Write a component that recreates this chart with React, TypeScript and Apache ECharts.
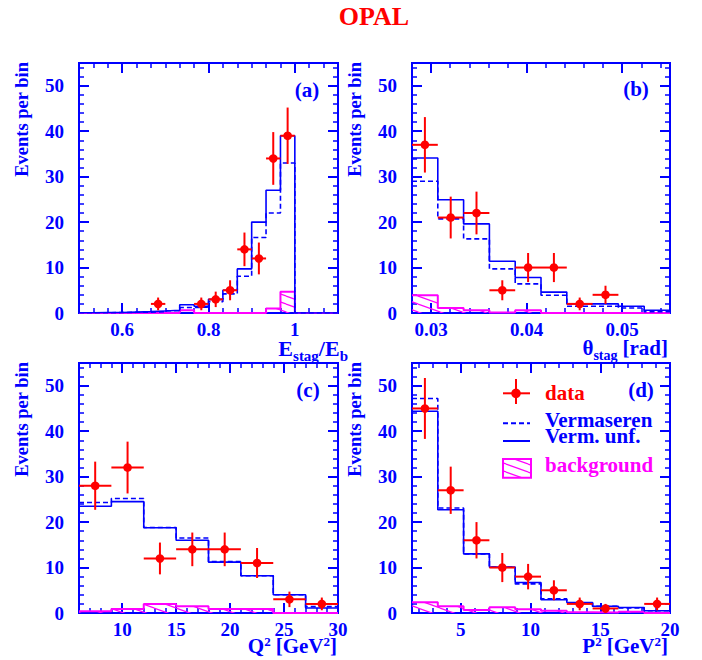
import React, { useEffect, useRef } from 'react';
import * as echarts from 'echarts';

// ---------- shared axis ticks ----------
const Y_TICKS = [0, 10, 20, 30, 40, 50];
const Y_MINOR = [2, 4, 6, 8, 12, 14, 16, 18, 22, 24, 26, 28, 32, 34, 36, 38, 42, 44, 46, 48, 52, 54];

// ---------- panel (a): E_stag / E_b ----------
const A_EDGES = [0.5, 0.5333, 0.5667, 0.6, 0.6333, 0.6667, 0.7, 0.7333, 0.7667, 0.8, 0.8333, 0.8667, 0.9, 0.9333, 0.9667, 1.0, 1.0333, 1.0667, 1.1];
const A_UNF = [0.05, 0.1, 0.1, 0.2, 0.3, 0.45, 0.6, 1.8, 1.5, 3.0, 5.0, 9.7, 20, 27, 39, 0, 0, 0];
const A_VERM = [0.05, 0.05, 0.1, 0.15, 0.2, 0.3, 0.5, 1.2, 1.3, 2.5, 4.2, 8.1, 16.6, 22, 33, 0, 0, 0];
const A_BKG = [0, 0, 0, 0, 0, 0, 0, 0.6, 0, 0, 0, 0, 0, 1.0, 4.7, 0, 0, 0];
const A_DATA_X = [0.6833, 0.7833, 0.8167, 0.85, 0.8833, 0.9167, 0.95, 0.9833];
const A_DATA_Y = [2, 2, 3, 5, 14, 12, 34, 39];
const A_DATA_ERR = [1.4, 1.4, 1.7, 2.2, 3.7, 3.5, 5.8, 6.2];
const A_HALF_BIN = 0.01667;
const A_XTICKS = [0.6, 0.8, 1];
const A_XMINOR = [0.5333, 0.5667, 0.6333, 0.6667, 0.7, 0.7333, 0.7667, 0.8333, 0.8667, 0.9, 0.9333, 0.9667, 1.0333, 1.0667];

// ---------- panel (b): theta_stag ----------
const B_EDGES = [0.028, 0.0307, 0.0334, 0.0361, 0.0388, 0.0415, 0.0442, 0.0469, 0.0496, 0.0523, 0.055];
const B_UNF = [34.1, 24.9, 19.6, 11.4, 7.8, 4.6, 2.0, 2.0, 1.5, 0.6];
const B_VERM = [29, 20.7, 16.3, 9.7, 6.4, 3.9, 1.5, 1.5, 1.1, 0.3];
const B_BKG = [3.9, 1.1, 0.6, 0.1, 0.6, 0, 0, 0, 0, 0];
const B_DATA_X = [0.02935, 0.03205, 0.03475, 0.03745, 0.04015, 0.04285, 0.04555, 0.04825];
const B_DATA_Y = [37, 21, 22, 5, 10, 10, 2, 4];
const B_DATA_ERR = [6.1, 4.6, 4.7, 2.2, 3.2, 3.2, 1.4, 2.0];
const B_HALF_BIN = 0.00135;
const B_XTICKS = [0.03, 0.04, 0.05];
const B_XMINOR = [0.032, 0.034, 0.036, 0.038, 0.042, 0.044, 0.046, 0.048, 0.052, 0.054];

// ---------- panel (c): Q^2 ----------
const C_EDGES = [6, 9, 12, 15, 18, 21, 24, 27, 30];
const C_UNF = [23.5, 24.5, 18.75, 16.0, 11.2, 8.2, 4.0, 1.1];
const C_VERM = [24.3, 25.2, 18.8, 16.5, 11.3, 8.2, 4.0, 1.4];
const C_BKG = [0.4, 0.9, 2.0, 1.5, 0.9, 0.9, 0, 0];
const C_DATA_X = [7.5, 10.5, 13.5, 16.5, 19.5, 22.5, 25.5, 28.5];
const C_DATA_Y = [28, 32, 12, 14, 14, 11, 3, 2];
const C_DATA_ERR = [5.3, 5.7, 3.5, 3.7, 3.7, 3.3, 1.7, 1.4];
const C_HALF_BIN = 1.5;
const C_XTICKS = [10, 15, 20, 25, 30];
const C_XMINOR = [7, 8, 9, 11, 12, 13, 14, 16, 17, 18, 19, 21, 22, 23, 24, 26, 27, 28, 29];

// ---------- panel (d): P^2 ----------
const D_EDGES = [1.5, 3.35, 5.2, 7.05, 8.9, 10.75, 12.6, 14.45, 16.3, 18.15, 20];
const D_UNF = [44.4, 22.7, 13.0, 10.1, 6.7, 2.9, 2.3, 1.5, 1.2, 0.5];
const D_VERM = [47.2, 23.1, 13.0, 10.1, 6.4, 3.1, 2.2, 1.5, 1.1, 0.5];
const D_BKG = [2.35, 1.5, 0.66, 1.25, 0.8, 0.5, 0.15, 0.1, 0.3, 0];
const D_DATA_X = [2.425, 4.275, 6.125, 7.975, 9.825, 11.675, 13.525, 15.375, 19.075];
const D_DATA_Y = [45, 27, 16, 10, 8, 5, 2, 1, 2];
const D_DATA_ERR = [6.7, 5.2, 4.0, 3.2, 2.8, 2.2, 1.4, 1.0, 1.4];
const D_HALF_BIN = 0.925;
const D_XTICKS = [5, 10, 15, 20];
const D_XMINOR = [2, 3, 4, 6, 7, 8, 9, 11, 12, 13, 14, 16, 17, 18, 19];

const LEGEND_LABELS = ['data', 'Vermaseren', 'Verm. unf.', 'background'];
const PANEL_TAGS = ['(a)', '(b)', '(c)', '(d)'];
const TITLE = 'OPAL';
const Y_TITLE = 'Events per bin';

const BLUE = '#0000ff';
const RED = '#ff0000';
const MAGENTA = '#ff00ff';
const FONT = '"Liberation Serif", "Times New Roman", serif';

function hist(edges: number[], vals: number[]) {
  const pts = vals.map((v, i) => [edges[i], v]);
  pts.push([edges[vals.length], vals[vals.length - 1]]);
  return pts;
}

function makeHatch() {
  const W = 22, H = 8;
  const c = document.createElement('canvas');
  c.width = W; c.height = H;
  const ctx = c.getContext('2d')!;
  ctx.strokeStyle = MAGENTA;
  ctx.lineWidth = 1.2;
  for (let i = -1; i <= 1; i++) {
    for (let j = -1; j <= 1; j++) {
      ctx.beginPath();
      ctx.moveTo(i * W, j * H);
      ctx.lineTo(i * W + W, j * H + H);
      ctx.stroke();
    }
  }
  return c;
}

function composeRight(rightX: number, baseY: number, pieces: any[]) {
  const ctx = document.createElement('canvas').getContext('2d')!;
  const widths = pieces.map((p) => {
    ctx.font = `bold ${p.size}px "Liberation Serif"`;
    return ctx.measureText(p.t).width + (p.gap || 0);
  });
  const total = widths.reduce((a, b) => a + b, 0);
  let x = rightX - total;
  return pieces.map((p, i) => {
    const el = {
      type: 'text',
      x: x + (p.gap || 0),
      y: baseY + (p.dy || 0) - 0.34 * p.size,
      style: {
        text: p.t, fontSize: p.size, fontWeight: 'bold', fontFamily: FONT,
        fill: BLUE, align: 'left', verticalAlign: 'middle', lineHeight: Math.round(p.size * 0.62),
      },
    };
    x += widths[i];
    return el;
  });
}

export default function App() {
  const ref = useRef<HTMLDivElement>(null);

  useEffect(() => {
    const chart = echarts.init(ref.current!, null, { renderer: 'svg' });
    const hatch = { image: makeHatch(), repeat: 'repeat' } as any;

    const grids = [
      { left: 79, top: 63, width: 259, height: 250 },
      { left: 412, top: 63, width: 258, height: 250 },
      { left: 79, top: 363, width: 259, height: 250 },
      { left: 412, top: 363, width: 258, height: 250 },
    ];

    const panels = [
      { edges: A_EDGES, unf: A_UNF, verm: A_VERM, bkg: A_BKG, dx: A_DATA_X, dy: A_DATA_Y, de: A_DATA_ERR, hb: A_HALF_BIN, xt: A_XTICKS, xm: A_XMINOR },
      { edges: B_EDGES, unf: B_UNF, verm: B_VERM, bkg: B_BKG, dx: B_DATA_X, dy: B_DATA_Y, de: B_DATA_ERR, hb: B_HALF_BIN, xt: B_XTICKS, xm: B_XMINOR },
      { edges: C_EDGES, unf: C_UNF, verm: C_VERM, bkg: C_BKG, dx: C_DATA_X, dy: C_DATA_Y, de: C_DATA_ERR, hb: C_HALF_BIN, xt: C_XTICKS, xm: C_XMINOR },
      { edges: D_EDGES, unf: D_UNF, verm: D_VERM, bkg: D_BKG, dx: D_DATA_X, dy: D_DATA_Y, de: D_DATA_ERR, hb: D_HALF_BIN, xt: D_XTICKS, xm: D_XMINOR },
    ];

    const xAxis: any[] = [];
    const yAxis: any[] = [];
    const series: any[] = [];

    const tickStyle = (len: number, w: number, vals: number[]) => ({
      show: true, inside: true, length: len, customValues: vals,
      lineStyle: { color: BLUE, width: w },
    });
    const labelStyle = (vals: number[], margin: number, lh: number) => ({
      show: true, customValues: vals, margin, color: BLUE, fontFamily: FONT,
      fontWeight: 'bold', fontSize: 19, lineHeight: lh,
    });

    panels.forEach((p, gi) => {
      const xmin = p.edges[0];
      const xmax = p.edges[p.edges.length - 1];
      const xb = {
        type: 'value', gridIndex: gi, min: xmin, max: xmax,
        splitLine: { show: false }, axisLine: { show: false, onZero: false },
      };
      xAxis.push({ ...xb, position: 'bottom', axisTick: tickStyle(10, 2, p.xt), axisLabel: labelStyle(p.xt, 9, 14) });
      xAxis.push({ ...xb, position: 'bottom', axisTick: tickStyle(5, 1.5, p.xm), axisLabel: { show: false } });
      xAxis.push({ ...xb, position: 'top', axisTick: tickStyle(10, 2, p.xt), axisLabel: { show: false } });
      xAxis.push({ ...xb, position: 'top', axisTick: tickStyle(5, 1.5, p.xm), axisLabel: { show: false } });

      const yb = {
        type: 'value', gridIndex: gi, min: 0, max: 55,
        splitLine: { show: false }, axisLine: { show: false, onZero: false },
      };
      yAxis.push({ ...yb, position: 'left', axisTick: tickStyle(10, 2, Y_TICKS), axisLabel: labelStyle(Y_TICKS, 15, 19) });
      yAxis.push({ ...yb, position: 'left', axisTick: tickStyle(5, 1.5, Y_MINOR), axisLabel: { show: false } });
      yAxis.push({ ...yb, position: 'right', axisTick: tickStyle(10, 2, Y_TICKS), axisLabel: { show: false } });
      yAxis.push({ ...yb, position: 'right', axisTick: tickStyle(5, 1.5, Y_MINOR), axisLabel: { show: false } });

      const ax = { xAxisIndex: gi * 4, yAxisIndex: gi * 4 };
      series.push({
        ...ax, type: 'line', name: 'background', step: 'end', data: hist(p.edges, p.bkg),
        showSymbol: false, symbol: 'none',
        lineStyle: { color: MAGENTA, width: 2 },
        areaStyle: { color: hatch, opacity: 1 },
        z: 2,
      });
      series.push({
        ...ax, type: 'line', name: 'Vermaseren', step: 'end', data: hist(p.edges, p.verm),
        showSymbol: false, symbol: 'none',
        lineStyle: { color: BLUE, width: 1.6, type: [5, 3] }, z: 3,
      });
      series.push({
        ...ax, type: 'line', name: 'Verm. unf.', step: 'end', data: hist(p.edges, p.unf),
        showSymbol: false, symbol: 'none',
        lineStyle: { color: BLUE, width: 1.6 }, z: 4,
      });
      series.push({
        ...ax, type: 'custom', name: 'data', z: 5,
        data: p.dx.map((x, i) => [x, p.dy[i], p.de[i], p.hb]),
        encode: { x: 0, y: 1 },
        renderItem: (params: any, api: any) => {
          const x = api.value(0), y = api.value(1), e = api.value(2), h = api.value(3);
          const c = api.coord([x, y]);
          const l = api.coord([x - h, y]);
          const r = api.coord([x + h, y]);
          const t = api.coord([x, y + e]);
          const b = api.coord([x, Math.max(0, y - e)]);
          return {
            type: 'group',
            children: [
              { type: 'line', shape: { x1: l[0], y1: c[1], x2: r[0], y2: c[1] }, style: { stroke: RED, lineWidth: 2 } },
              { type: 'line', shape: { x1: c[0], y1: t[1], x2: c[0], y2: b[1] }, style: { stroke: RED, lineWidth: 2 } },
              { type: 'circle', shape: { cx: c[0], cy: c[1], r: 4.3 }, style: { fill: RED } },
            ],
          };
        },
      });
    });

    const boldText = (x: number, y: number, text: string, size: number, color: string, align = 'left', extra: any = {}, lh?: number) => ({
      type: 'text', x, y, ...extra,
      style: {
        text, fontSize: size, fontWeight: 'bold', fontFamily: FONT, fill: color, align, verticalAlign: 'middle',
        lineHeight: lh || size,
      },
    });

    const graphic: any[] = [
      boldText(374, 16, TITLE, 26, RED, 'center'),
      boldText(307, 89.5, PANEL_TAGS[0], 21, BLUE, 'center'),
      boldText(636, 88.5, PANEL_TAGS[1], 21, BLUE, 'center'),
      boldText(308, 389.5, PANEL_TAGS[2], 21, BLUE, 'center'),
      boldText(641, 390, PANEL_TAGS[3], 21, BLUE, 'center'),
      boldText(22, 62, Y_TITLE, 18.5, BLUE, 'right', { rotation: Math.PI / 2 }),
      boldText(355, 62, Y_TITLE, 18.5, BLUE, 'right', { rotation: Math.PI / 2 }),
      boldText(22, 362, Y_TITLE, 18.5, BLUE, 'right', { rotation: Math.PI / 2 }),
      boldText(355, 362, Y_TITLE, 18.5, BLUE, 'right', { rotation: Math.PI / 2 }),
      ...composeRight(348, 356, [
        { t: 'E', size: 22 }, { t: 'stag', size: 15, dy: 5 }, { t: '/', size: 22 },
        { t: 'E', size: 22 }, { t: 'b', size: 15, dy: 5 },
      ]),
      ...composeRight(668, 355, [
        { t: 'θ', size: 21 }, { t: 'stag', size: 14, dy: 5 }, { t: '[rad]', size: 21, gap: 5 },
      ]),
      ...composeRight(337, 653, [
        { t: 'Q', size: 21 }, { t: '2', size: 13, dy: -7.5 }, { t: '[GeV', size: 21, gap: 5 },
        { t: '2', size: 13, dy: -7.5 }, { t: ']', size: 21 },
      ]),
      ...composeRight(668, 653, [
        { t: 'P', size: 21 }, { t: '2', size: 13, dy: -7.5 }, { t: '[GeV', size: 21, gap: 5 },
        { t: '2', size: 13, dy: -7.5 }, { t: ']', size: 21 },
      ]),
      // legend in panel (d)
      { type: 'line', shape: { x1: 503, y1: 393.3, x2: 530, y2: 393.3 }, style: { stroke: RED, lineWidth: 2 } },
      { type: 'line', shape: { x1: 516, y1: 379, x2: 516, y2: 404 }, style: { stroke: RED, lineWidth: 2 } },
      { type: 'circle', shape: { cx: 516, cy: 393.3, r: 4.8 }, style: { fill: RED } },
      boldText(545, 393, LEGEND_LABELS[0], 21, RED, 'left', {}, 15),
      { type: 'line', shape: { x1: 503, y1: 423.3, x2: 530, y2: 423.3 }, style: { stroke: BLUE, lineWidth: 2, lineDash: [5, 3] } },
      boldText(545, 419.6, LEGEND_LABELS[1], 21, BLUE, 'left', {}, 15),
      { type: 'line', shape: { x1: 503, y1: 441, x2: 530, y2: 441 }, style: { stroke: BLUE, lineWidth: 2 } },
      boldText(545, 436.2, LEGEND_LABELS[2], 21, BLUE, 'left', {}, 15),
      { type: 'rect', shape: { x: 503, y: 459, width: 28, height: 18.7 }, style: { fill: hatch, stroke: MAGENTA, lineWidth: 2 } },
      boldText(545, 465.2, LEGEND_LABELS[3], 21, MAGENTA, 'left', {}, 15),
    ];

    chart.setOption({
      animation: false,
      backgroundColor: '#ffffff',
      grid: grids.map((g) => ({
        ...g, show: true, borderColor: BLUE, borderWidth: 2, backgroundColor: 'transparent',
        containLabel: false, outerBoundsMode: 'none',
      })),
      xAxis,
      yAxis,
      series,
      graphic,
    });

    return () => chart.dispose();
  }, []);

  return <div ref={ref} style={{ position: 'absolute', left: 0, top: 0, width: 702, height: 660 }} />;
}
